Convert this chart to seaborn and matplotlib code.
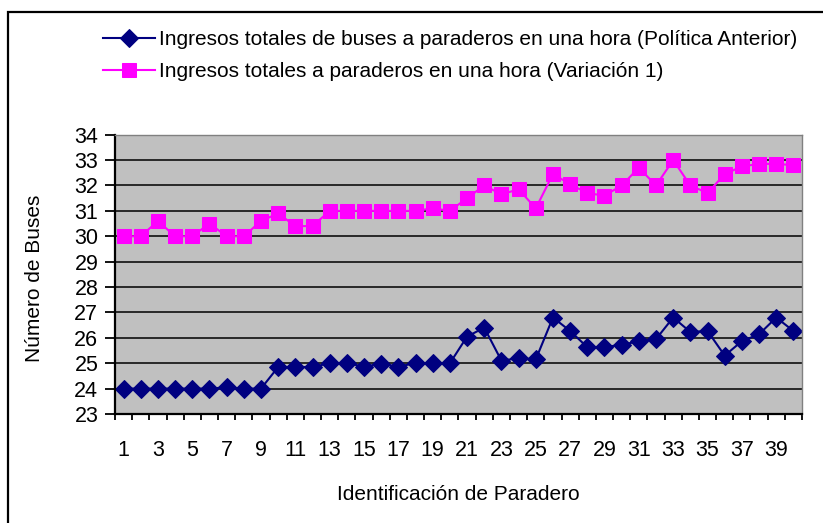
import numpy as np
import matplotlib
matplotlib.use("Agg")
import matplotlib.pyplot as plt
import seaborn as sns
from matplotlib.patches import Rectangle
from matplotlib.ticker import MultipleLocator, FixedLocator

plt.rcParams['font.family'] = ['Liberation Sans', 'DejaVu Sans']

# Data
paraderos = list(range(1, 41))
politica_anterior = [24.0, 24.0, 24.0, 24.0, 24.0, 24.0, 24.05, 24.0, 24.0, 24.85,
                     24.85, 24.85, 25.0, 25.0, 24.87, 24.97, 24.87, 25.0, 25.0, 25.0,
                     26.05, 26.4, 25.1, 25.2, 25.15, 26.8, 26.27, 25.63, 25.63, 25.73,
                     25.86, 25.95, 26.8, 26.23, 26.27, 25.3, 25.87, 26.14, 26.8, 26.27]
variacion_1 = [30.0, 30.0, 30.6, 30.0, 30.0, 30.5, 30.0, 30.0, 30.6, 30.9,
               30.4, 30.4, 31.0, 31.0, 31.0, 31.0, 31.0, 31.0, 31.1, 31.0,
               31.5, 32.0, 31.65, 31.85, 31.1, 32.45, 32.05, 31.7, 31.6, 32.0,
               32.7, 32.0, 33.0, 32.0, 31.7, 32.45, 32.75, 32.85, 32.85, 32.8]
labels = ["Ingresos totales de buses a paraderos en una hora (Política Anterior)",
          "Ingresos totales a paraderos en una hora (Variación 1)"]

W, H = 823, 523
fs = 15
fig = plt.figure(figsize=(W / 100, H / 100), dpi=100)
ax = fig.add_axes([115 / W, 1 - 414 / H, 687 / W, (414 - 134.7) / H])
ax.set_facecolor('#C0C0C0')

sns.lineplot(x=paraderos, y=politica_anterior, ax=ax, color='#000080', marker='D',
             markersize=9.5, markeredgecolor='#000080', linewidth=1.5, label=labels[0])
sns.lineplot(x=paraderos, y=variacion_1, ax=ax, color='#FF00FF', marker='s',
             markersize=10.5, markeredgecolor='#FF00FF', linewidth=1.5, label=labels[1])

ax.set_xlim(0.5, 40.5)
ax.set_ylim(23, 34)
ax.yaxis.set_major_locator(MultipleLocator(1))
ax.set_xticks(paraderos[::2])
ax.xaxis.set_minor_locator(FixedLocator(np.arange(0.5, 41, 1)))
ax.tick_params(axis='x', which='major', length=0, pad=19, labelsize=15.5)
ax.tick_params(axis='x', which='minor', length=4.5, width=1.3, color='black')
ax.tick_params(axis='y', length=7, width=1.3, pad=5, labelsize=15.5)
ax.grid(axis='y', color='black', linewidth=1.1)
ax.grid(axis='x', visible=False)
ax.set_axisbelow(True)

for s in ['left', 'bottom']:
    ax.spines[s].set_color('black')
    ax.spines[s].set_linewidth(1.6)
for s in ['top', 'right']:
    ax.spines[s].set_color('#808080')
    ax.spines[s].set_linewidth(1.0)

ax.set_xlabel("Identificación de Paradero", fontsize=fs)
ax.set_ylabel("Número de Buses", fontsize=fs)
ax.xaxis.set_label_coords(0.5, -0.255)
ax.yaxis.set_label_coords(-0.104, 0.485)

ax.get_legend().remove()
handles, lbls = ax.get_legend_handles_labels()
fig.legend(handles, lbls, loc='upper left', bbox_to_anchor=(95 / W, 1 - 22 / H),
           frameon=False, fontsize=fs, handlelength=2.5, handletextpad=0.15,
           labelspacing=0.62, borderaxespad=0)

fig.patches.append(Rectangle((8 / W, -0.05), 1.0, 1 - 12 / H + 0.05, transform=fig.transFigure,
                             fill=False, edgecolor='black', linewidth=1.6))

fig.savefig('out.png', dpi=100)
